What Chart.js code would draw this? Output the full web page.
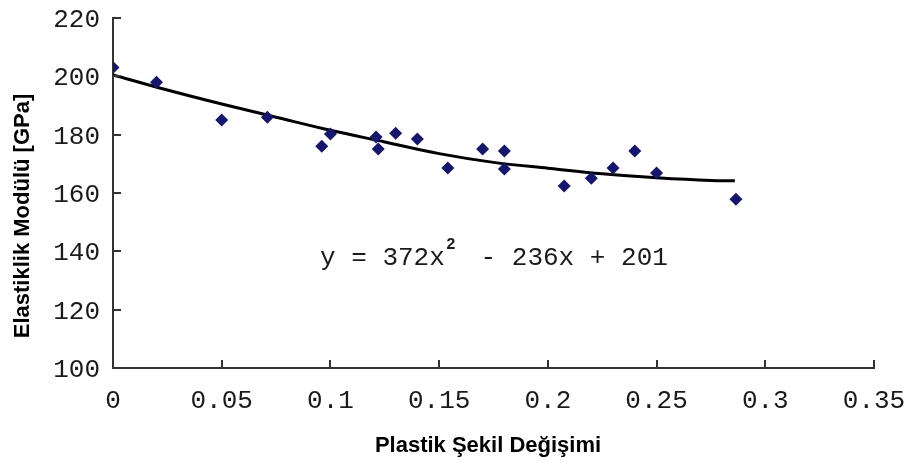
<!DOCTYPE html>
<html>
<head>
<meta charset="utf-8">
<script src="https://cdn.jsdelivr.net/npm/chart.js@4"></script>
<style>
  html, body { margin: 0; padding: 0; background: #fff; }
  #wrap { width: 910px; height: 461px; }
</style>
</head>
<body>
<div id="wrap"><canvas id="chart" width="910" height="461"></canvas></div>
<script>
// measured points (plastic strain vs. elastic modulus)
const strainValues = [0, 0.02, 0.05, 0.071, 0.096, 0.1, 0.121, 0.122, 0.13, 0.14,
    0.154, 0.17, 0.18, 0.18, 0.2075, 0.22, 0.23, 0.24, 0.25, 0.2865];
const modulusValues = [203, 198, 185, 186, 176, 180.2, 179.2, 175.1, 180.5, 178.5,
    168.6, 175.1, 174.4, 168.2, 162.4, 165.1, 168.6, 174.4, 166.9, 157.9];

// trend line
const trendX = [0, 0.025, 0.05, 0.075, 0.1, 0.125, 0.15, 0.175, 0.2, 0.225, 0.25, 0.275, 0.286];
const trendY = [200.5, 195.3, 190.5, 186, 181.5, 177.5, 173.5, 170.5, 168.5, 166.6, 165.2, 164.3, 164.2];

const xTickLabels = ['0', '0.05', '0.1', '0.15', '0.2', '0.25', '0.3', '0.35'];
const yTickLabels = ['100', '120', '140', '160', '180', '200', '220'];

const xTitle = 'Plastik Şekil Değişimi';
const yTitle = 'Elastiklik Modülü [GPa]';
const eqMain = 'y = 372x';
const eqSup = '2';
const eqRest = ' - 236x + 201';

const axisColor = '#333333';
const textColor = '#1a1a1a';
const monoFont = '"Liberation Mono", "DejaVu Sans Mono", monospace';

/**
 * Draws inner tick marks, axis titles and the regression equation
 */
const decorations = {
    id: 'decorations',
    afterDraw(chart) {
        const ctx = chart.ctx;
        const { x, y } = chart.scales;
        const area = chart.chartArea;

        ctx.save();
        ctx.strokeStyle = axisColor;
        ctx.lineWidth = 2;
        ctx.beginPath();
        x.ticks.forEach(t => {
            const px = Math.round(x.getPixelForValue(t.value));
            if (px <= area.left + 1) return;
            ctx.moveTo(px, area.bottom);
            ctx.lineTo(px, area.bottom - 8);
        });
        y.ticks.forEach(t => {
            const py = Math.round(y.getPixelForValue(t.value));
            if (py >= area.bottom - 1) return;
            ctx.moveTo(area.left, py);
            ctx.lineTo(area.left + 8, py);
        });
        ctx.stroke();

        // axis titles
        ctx.fillStyle = '#000';
        ctx.font = 'bold 22px "Liberation Sans", Arial, sans-serif';
        ctx.textAlign = 'center';
        ctx.textBaseline = 'alphabetic';
        ctx.fillText(xTitle, 488, 452);

        ctx.save();
        ctx.translate(29, 216);
        ctx.rotate(-Math.PI / 2);
        ctx.fillText(yTitle, 0, 0);
        ctx.restore();

        // equation
        ctx.fillStyle = textColor;
        ctx.textAlign = 'left';
        ctx.font = '26px ' + monoFont;
        ctx.fillText(eqMain, 320, 265);
        ctx.fillText(eqRest, 465, 265);
        ctx.font = 'bold 16px ' + monoFont;
        ctx.fillText(eqSup, 446, 249);
        ctx.restore();
    }
};

// keep the plot area exactly where the reference has it
function fixPadding(scale) {
    scale.paddingLeft = 0;
    scale.paddingRight = 0;
    scale.paddingTop = 0;
    scale.paddingBottom = 0;
}

const ctx = document.getElementById('chart').getContext('2d');

new Chart(ctx, {
    type: 'scatter',
    data: {
        datasets: [
            {
                label: 'Trend',
                data: trendX.map((v, i) => ({ x: v, y: trendY[i] })),
                showLine: true,
                borderColor: '#000',
                borderWidth: 3,
                pointRadius: 0,
                cubicInterpolationMode: 'monotone',
                order: 2
            },
            {
                label: 'E',
                data: strainValues.map((v, i) => ({ x: v, y: modulusValues[i] })),
                pointStyle: 'rectRot',
                pointRadius: 6.5,
                backgroundColor: '#16166e',
                borderColor: '#16166e',
                borderWidth: 0,
                order: 1
            }
        ]
    },
    options: {
        responsive: false,
        animation: false,
        layout: { padding: { top: 18, right: 36, left: 0, bottom: 0 } },
        plugins: {
            legend: { display: false },
            tooltip: { enabled: false }
        },
        scales: {
            x: {
                type: 'linear',
                min: 0,
                max: 0.35,
                afterBuildTicks: (scale) => {
                    scale.ticks = xTickLabels.map(l => ({ value: parseFloat(l) }));
                },
                afterFit: (scale) => { scale.height = 93; fixPadding(scale); },
                grid: { display: false, drawTicks: false },
                border: { display: true, color: axisColor, width: 2 },
                ticks: {
                    color: textColor,
                    padding: 18,
                    maxRotation: 0,
                    autoSkip: false,
                    font: { family: monoFont, size: 26 },
                    callback: (v, i) => xTickLabels[i]
                }
            },
            y: {
                type: 'linear',
                min: 100,
                max: 220,
                afterBuildTicks: (scale) => {
                    scale.ticks = yTickLabels.map(l => ({ value: parseFloat(l) }));
                },
                afterFit: (scale) => { scale.width = 113; fixPadding(scale); },
                grid: { display: false, drawTicks: false },
                border: { display: true, color: axisColor, width: 2 },
                ticks: {
                    color: textColor,
                    padding: 13,
                    labelOffset: 2,
                    autoSkip: false,
                    font: { family: monoFont, size: 26 },
                    callback: (v, i) => yTickLabels[i]
                }
            }
        }
    },
    plugins: [decorations]
});
</script>
</body>
</html>
